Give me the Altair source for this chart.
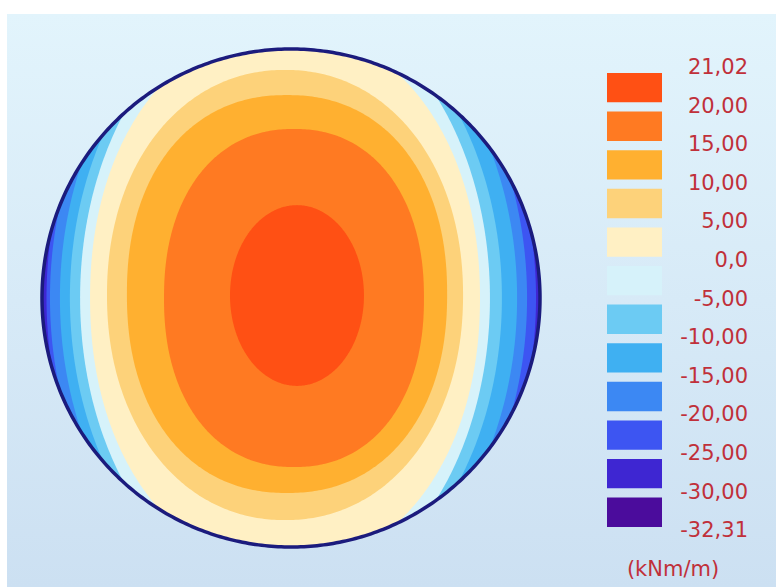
import math
import altair as alt

# ---- scale of the result (kNm/m), from the top of the legend down ----
levels = [21.02, 20.0, 15.0, 10.0, 5.0, 0.0, -5.0, -10.0, -15.0, -20.0, -25.0, -30.0, -32.31]
level_labels = ["21,02", "20,00", "15,00", "10,00", "5,00", "0,0", "-5,00",
                "-10,00", "-15,00", "-20,00", "-25,00", "-30,00", "-32,31"]
# one colour per band between two consecutive levels
band_colors = ["#FF5014", "#FF7A22", "#FFB030", "#FDD27A", "#FFF0C4", "#D6F2FA",
               "#6CCBF3", "#3FB0F2", "#3C88F3", "#3D55F2", "#3E26D2", "#4B0C9C"]
unit_label = "(kNm/m)"

# ---- contour lines on the plate (coordinates divided by the plate radius) ----
contour_levels = [-30, -25, -20, -15, -10, -5, 0, 5, 10, 15, 20]
contour_left = [-0.996, -0.982, -0.968, -0.928, -0.888, -0.847, -0.807, -0.739, -0.659, -0.510, -0.245]
contour_right = [0.996, 0.984, 0.948, 0.908, 0.847, 0.799, 0.759, 0.691, 0.627, 0.534, 0.293]
contour_top = [1.37, 1.33, 1.30, 1.27, 1.23, 1.20, 1.08, 0.916, 0.815, 0.679, 0.373]
contour_bottom = [-1.37, -1.33, -1.30, -1.27, -1.23, -1.20, -1.08, -0.892, -0.783, -0.679, -0.353]
# how square each contour is (2 = plain ellipse)
contour_squareness = [2.0, 2.0, 2.0, 2.0, 2.0, 2.0, 2.1, 2.1, 2.2, 2.2, 2.0]

# ---- page layout (pixels) ----
W, H = 776, 587
PLATE_CX, PLATE_CY, PLATE_R = 291, 298, 249
PANEL_LEFT, PANEL_TOP = 7, 14


def to_plate(px, py):
    return (px - PLATE_CX) / PLATE_R, (PLATE_CY - py) / PLATE_R


def feature(ring, **props):
    return {"type": "Feature", "properties": props,
            "geometry": {"type": "Polygon", "coordinates": [ring]}}


def rect_ring(xa, ya, xb, yb):
    return [[xa, ya], [xb, ya], [xb, yb], [xa, yb], [xa, ya]]


def contour_ring(left, right, top, bottom, p=2.0, n=480):
    """Closed contour through its four extremes (superellipse of exponent p), cut at the plate edge."""
    cx, cy = (left + right) / 2, (top + bottom) / 2
    a, b = (right - left) / 2, (top - bottom) / 2
    pts = []
    for k in range(n + 1):
        t = 2 * math.pi * k / n
        c, s = math.cos(t), math.sin(t)
        x = cx + a * math.copysign(abs(c) ** (2 / p), c)
        y = cy + b * math.copysign(abs(s) ** (2 / p), s)
        r = math.hypot(x, y)
        if r > 1:
            x, y = x / r, y / r
        pts.append([round(x, 5), round(y, 5)])
    return pts


def band_color_above(level):
    i = levels.index(level)
    return band_colors[i - 1]


# frame that fixes the projection to the whole page, and the tinted panel
fx0, fy0 = to_plate(0, 0)
fx1, fy1 = to_plate(W, H)
px0, py0 = to_plate(PANEL_LEFT, PANEL_TOP)
frame = [feature(rect_ring(fx0, fy0, fx1, fy1))]
panel = [feature(rect_ring(px0, py0, fx1, fy1))]

# plate: full disc in the lowest band, then each contour region on top
bands = [feature(contour_ring(-1, 1, 1, -1), color=band_colors[-1])]
for lv, l, r, t, b, p in zip(contour_levels, contour_left, contour_right,
                             contour_top, contour_bottom, contour_squareness):
    bands.append(feature(contour_ring(l, r, t, b, p), color=band_color_above(float(lv))))
edge = [feature(contour_ring(-1, 1, 1, -1))]

proj = dict(type="identity", reflectY=True)

frame_layer = alt.Chart(alt.Data(values=frame)).mark_geoshape(
    fill="white", strokeWidth=0).project(**proj)

panel_layer = alt.Chart(alt.Data(values=panel)).mark_geoshape(
    strokeWidth=0,
    fill=alt.LinearGradient(
        gradient="linear", x1=0, y1=0, x2=0, y2=1,
        stops=[alt.GradientStop(color="#E2F4FC", offset=0),
               alt.GradientStop(color="#CCE0F2", offset=1)]),
).project(**proj)

band_layer = alt.Chart(alt.Data(values=bands)).mark_geoshape(strokeWidth=0).encode(
    fill=alt.Fill("properties.color:N", scale=None)
).project(**proj)

edge_layer = alt.Chart(alt.Data(values=edge)).mark_geoshape(
    filled=False, stroke="#1B1B7D", strokeWidth=3.5).project(**proj)

# ---- legend ----
row_scale = alt.Scale(domain=[0, 12], range=[68, 531.2])

swatch_rows = [{"row": i, "color": c} for i, c in enumerate(band_colors)]
swatches = alt.Chart(alt.Data(values=swatch_rows)).transform_calculate(
    top="datum.row + 0.13", bottom="datum.row + 0.89"
).mark_rect().encode(
    x=alt.value(607), x2=alt.value(662),
    y=alt.Y("top:Q", scale=row_scale, axis=None),
    y2="bottom:Q",
    fill=alt.Fill("color:N", scale=None),
)

label_rows = [{"row": i, "value": v, "label": s} for i, (v, s) in enumerate(zip(levels, level_labels))]
labels = alt.Chart(alt.Data(values=label_rows)).mark_text(
    align="right", baseline="middle", font="DejaVu Sans", fontSize=21, color="#C0303A"
).encode(
    x=alt.value(748),
    y=alt.Y("row:Q", scale=row_scale, axis=None),
    text="label:N",
)

unit = alt.Chart(alt.Data(values=[{"unit": unit_label}])).mark_text(
    align="center", baseline="middle", font="DejaVu Sans", fontSize=21, color="#C0303A"
).encode(x=alt.value(673), y=alt.value(570), text="unit:N")

chart = alt.layer(
    frame_layer, panel_layer, band_layer, edge_layer, swatches, labels, unit
).properties(
    width=W, height=H, padding=0, autosize="none", background="white"
).configure_view(stroke=None)

chart.save("out.html", embed_options={"renderer": "svg", "actions": False})
